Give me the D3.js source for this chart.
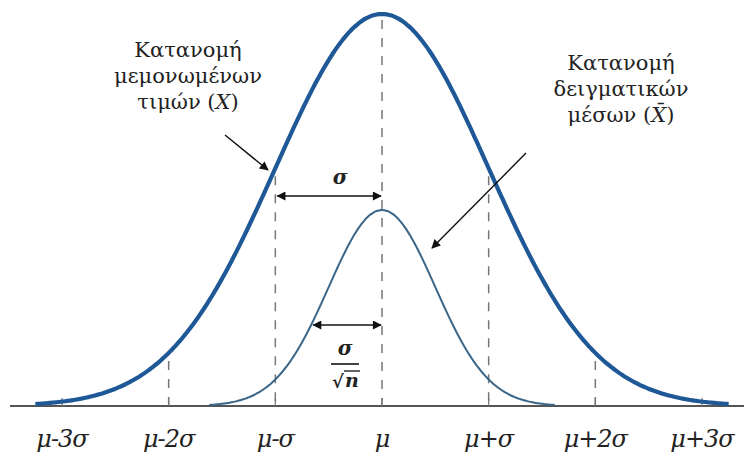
<!DOCTYPE html>
<html>
<head>
<meta charset="utf-8">
<script src="https://cdn.jsdelivr.net/npm/d3@7"></script>
<style>
  body { margin: 0; background: #fff; }
  svg text { font-family: "DejaVu Serif", serif; fill: #222; }
</style>
</head>
<body>
<svg id="c" width="744" height="460"></svg>
<script>
// positions on the axis, in units of sigma
const tickSteps = [-3, -2, -1, 0, 1, 2, 3];
const tickLabels = ['μ-3σ', 'μ-2σ', 'μ-σ', 'μ', 'μ+σ', 'μ+2σ', 'μ+3σ'];

// the two normal curves (relative heights, sd in sigma units, drawn span)
const popCurve = { sd: 1, peak: 1, span: [-3.25, 3.25] };
const meanCurve = { sd: 0.5, peak: 0.5, span: [-1.62, 1.62] };
const meanArrowAt = -0.645;   // where the σ/√n arrow meets the small curve

// label lines: [plain text, italic variable]
const leftLabel = [['Κατανομή', ''], ['μεμονωμένων', ''], ['τιμών (', 'X']];
const rightLabel = [['Κατανομή', ''], ['δειγματικών', ''], ['μέσων (', 'X\u0304']];

const svg = d3.select('#c');

const x = d3.scaleLinear().domain([-3, 3]).range([62, 702]);
const y = d3.scaleLinear().domain([0, 1]).range([406, 14]);

function density(c, t) {
  return c.peak * Math.exp(-0.5 * (t / c.sd) * (t / c.sd));
}

// arrow marker
svg.append('defs').append('marker')
  .attr('id', 'arr')
  .attr('viewBox', '0 0 10 10')
  .attr('refX', 9).attr('refY', 5)
  .attr('markerWidth', 11).attr('markerHeight', 9)
  .attr('markerUnits', 'userSpaceOnUse')
  .attr('orient', 'auto-start-reverse')
  .append('path')
  .attr('d', 'M0,0 L10,5 L0,10 z')
  .attr('fill', '#111');

// dashed guide lines from the big curve down to the axis
svg.selectAll('.guide')
  .data(tickSteps.filter(d => Math.abs(d) < 3))
  .join('line')
  .attr('class', 'guide')
  .attr('x1', d => x(d)).attr('x2', d => x(d))
  .attr('y1', d => y(density(popCurve, d)) + (d === 0 ? 6 : 8))
  .attr('y2', 406)
  .attr('stroke', '#777')
  .attr('stroke-width', 1.5)
  .attr('stroke-dasharray', '9,9');

// axis line with small ticks
svg.append('line')
  .attr('x1', 10).attr('x2', 744)
  .attr('y1', 406).attr('y2', 406)
  .attr('stroke', '#555').attr('stroke-width', 2);

svg.selectAll('.tick')
  .data(tickSteps)
  .join('line')
  .attr('class', 'tick')
  .attr('x1', d => x(d)).attr('x2', d => x(d))
  .attr('y1', 398).attr('y2', 406)
  .attr('stroke', '#777').attr('stroke-width', 1.2);

svg.selectAll('.tlab')
  .data(tickSteps)
  .join('text')
  .attr('class', 'tlab')
  .attr('x', d => x(d))
  .attr('y', 447)
  .attr('text-anchor', 'middle')
  .attr('font-size', 24)
  .attr('font-style', 'italic')
  .attr('letter-spacing', -1)
  .text((d, i) => tickLabels[i]);

// curves
const line = d3.line().curve(d3.curveBasis);

function curvePts(c) {
  return d3.range(c.span[0], c.span[1] + 0.001, 0.02)
    .map(t => [x(t), y(density(c, t))]);
}

svg.append('path')
  .attr('d', line(curvePts(popCurve)))
  .attr('fill', 'none')
  .attr('stroke', '#1f5896')
  .attr('stroke-width', 4.2);

svg.append('path')
  .attr('d', line(curvePts(meanCurve)))
  .attr('fill', 'none')
  .attr('stroke', '#3b6688')
  .attr('stroke-width', 2);

// sigma width arrows
svg.append('line')
  .attr('x1', x(-1) + 2).attr('x2', x(0) - 1)
  .attr('y1', 196).attr('y2', 196)
  .attr('stroke', '#111').attr('stroke-width', 1.6)
  .attr('marker-start', 'url(#arr)').attr('marker-end', 'url(#arr)');

svg.append('text')
  .attr('x', 340).attr('y', 184)
  .attr('text-anchor', 'middle')
  .attr('font-size', 20).attr('font-weight', 'bold').attr('font-style', 'italic')
  .text('σ');

svg.append('line')
  .attr('x1', x(meanArrowAt)).attr('x2', x(0) - 1)
  .attr('y1', 325).attr('y2', 325)
  .attr('stroke', '#111').attr('stroke-width', 1.6)
  .attr('marker-start', 'url(#arr)').attr('marker-end', 'url(#arr)');

const frac = svg.append('g').attr('transform', 'translate(345,0)');
frac.append('text')
  .attr('x', 0).attr('y', 355)
  .attr('text-anchor', 'middle')
  .attr('font-size', 20).attr('font-weight', 'bold').attr('font-style', 'italic')
  .text('σ');
frac.append('line')
  .attr('x1', -14).attr('x2', 14)
  .attr('y1', 364).attr('y2', 364)
  .attr('stroke', '#111').attr('stroke-width', 1.6);
frac.append('text')
  .attr('x', -7).attr('y', 388)
  .attr('text-anchor', 'middle')
  .attr('font-size', 18).attr('font-weight', 'bold')
  .text('√');
frac.append('line')
  .attr('x1', -1).attr('x2', 15)
  .attr('y1', 371).attr('y2', 371)
  .attr('stroke', '#111').attr('stroke-width', 1.3);
frac.append('text')
  .attr('x', 7).attr('y', 387)
  .attr('text-anchor', 'middle')
  .attr('font-size', 19).attr('font-weight', 'bold').attr('font-style', 'italic')
  .text('n');

// labels and pointer arrows
function drawLabel(lines, cx, y0) {
  const t = svg.selectAll(null)
    .data(lines)
    .join('text')
    .attr('x', cx)
    .attr('y', (d, i) => y0 + i * 26)
    .attr('text-anchor', 'middle')
    .attr('font-size', 21);
  t.append('tspan').text(d => d[0]);
  t.filter(d => d[1]).append('tspan').attr('font-style', 'italic').text(d => d[1]);
  t.filter(d => d[1]).append('tspan').text(')');
}

drawLabel(leftLabel, 188, 57);
drawLabel(rightLabel, 621, 70);

svg.append('line')
  .attr('x1', 225).attr('y1', 135)
  .attr('x2', 268).attr('y2', 170)
  .attr('stroke', '#111').attr('stroke-width', 1.4)
  .attr('marker-end', 'url(#arr)');

svg.append('line')
  .attr('x1', 526).attr('y1', 153)
  .attr('x2', 432).attr('y2', 248)
  .attr('stroke', '#111').attr('stroke-width', 1.4)
  .attr('marker-end', 'url(#arr)');
</script>
</body>
</html>
